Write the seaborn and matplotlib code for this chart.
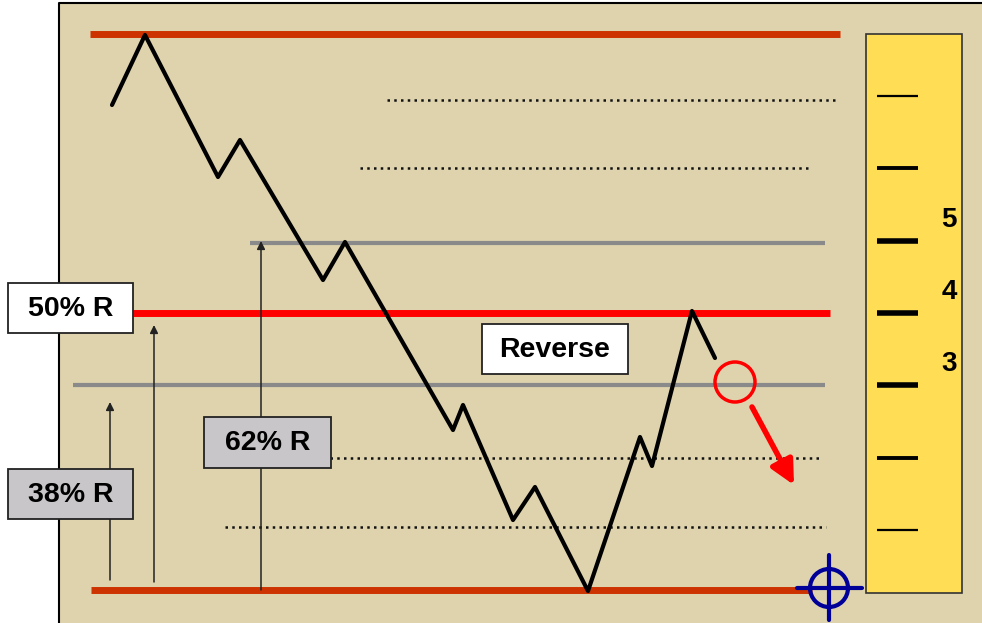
import numpy as np
import pandas as pd
import seaborn as sns
import matplotlib.pyplot as plt
from matplotlib.patches import Rectangle, Circle

sns.set_theme(style="white")
plt.rcParams["font.family"] = ["Liberation Sans", "DejaVu Sans"]
plt.rcParams["text.color"] = "black"

# ---- data (diagram units: x to the right, y downward) ----------------------
zig_x = [112, 145, 218, 240, 323, 345, 453, 463, 513, 535, 588, 640, 652, 692, 715]
zig_y = [105, 35, 177, 140, 280, 242, 430, 405, 520, 487, 591, 437, 466, 311, 358]

# horizontal levels: (y, x_start, x_end)
major_y = [34, 590]
major_x0 = [90, 91]
major_x1 = [840, 812]
half_y, half_x0, half_x1 = 313, 133, 830
fib_y = [243, 385]
fib_x0 = [250, 73]
fib_x1 = [825, 825]
dot_y = [100, 168, 458, 527]
dot_x0 = [387, 360, 330, 225]
dot_x1 = [838, 810, 820, 826]

# retracement arrows: x, bottom, top
arrow_x = [110, 154, 261]
arrow_bottom = [580, 582, 590]
arrow_top = [402, 325, 241]

# ruler ticks and labels
ruler_ticks = [96, 168, 241, 313, 385, 458, 530]
ruler_widths = [1.6, 2.8, 4.0, 4.0, 4.0, 2.8, 1.6]
ruler_labels = ["5", "4", "3"]
ruler_label_y = [220, 292, 364]

BEIGE = "#DED3AD"
fig = plt.figure(figsize=(9.82, 6.23), dpi=100)
ax = fig.add_axes([0, 0, 1, 1])

# panel
ax.add_patch(Rectangle((59, 3), 940, 640, facecolor=BEIGE, edgecolor="none", zorder=0))
ax.plot([59, 59, 982], [623, 3, 3], color="black", lw=1.5, zorder=1)

# ruler
ax.add_patch(Rectangle((866, 34), 96, 559, facecolor="#FFDD55", edgecolor="#333333", lw=1.2, zorder=1))
for y, w in zip(ruler_ticks, ruler_widths):
    ax.plot([877, 918], [y, y], color="black", lw=w, solid_capstyle="butt", zorder=2)
for lab, y in zip(ruler_labels, ruler_label_y):
    ax.text(949, y, lab, fontsize=20, fontweight="bold", color="black",
            ha="center", va="center", zorder=3)

# levels
ax.hlines(major_y, major_x0, major_x1, color="#CC3300", lw=5, zorder=2)
ax.hlines(half_y, half_x0, half_x1, color="#FF0000", lw=5, zorder=2)
ax.hlines(fib_y, fib_x0, fib_x1, color="#8A8A8A", lw=3, zorder=2)
ax.hlines(dot_y, dot_x0, dot_x1, color="#111111", lw=1.8, linestyles=[(0, (1, 1.7))], zorder=2)

# arrows from base
for x, b, t in zip(arrow_x, arrow_bottom, arrow_top):
    ax.annotate("", xy=(x, t), xytext=(x, b),
                arrowprops=dict(arrowstyle="-|>", color="#222222", lw=1.1,
                                mutation_scale=12, shrinkA=0, shrinkB=0), zorder=3)

# price path
path = pd.DataFrame({"x": zig_x, "y": zig_y})
sns.lineplot(data=path, x="x", y="y", sort=False, color="black", lw=3, ax=ax, zorder=4)
ax.set_xlim(0, 982)
ax.set_ylim(623, 0)
ax.axis("off")

# label boxes
boxes = [
    ("50% R", 8, 283, 125, 50, "white"),
    ("38% R", 8, 469, 125, 50, "#C8C6C8"),
    ("62% R", 204, 417, 127, 51, "#C8C6C8"),
    ("Reverse", 482, 324, 146, 50, "white"),
]
for txt, x, y, w, h, fc in boxes:
    ax.add_patch(Rectangle((x, y), w, h, facecolor=fc, edgecolor="#222222", lw=1.3, zorder=5))
    ax.text(x + w / 2, y + h / 2 + 1, txt, fontsize=20.5, fontweight="bold", color="black",
            ha="center", va="center", zorder=6)

# reversal marker
ax.add_patch(Circle((735, 382), 20, facecolor="none", edgecolor="#FF0000", lw=2.5, zorder=6))
ax.annotate("", xy=(794, 485), xytext=(752, 407),
            arrowprops=dict(arrowstyle="-|>", color="#FF0000", lw=4,
                            mutation_scale=36, shrinkA=0, shrinkB=0), zorder=6)

# crosshair
ax.add_patch(Circle((829, 588), 19, facecolor="none", edgecolor="#000099", lw=3, zorder=7))
ax.plot([797, 862], [588, 588], color="#000099", lw=3, zorder=7)
ax.plot([829, 829], [555, 620], color="#000099", lw=3, zorder=7)

fig.savefig("out.png", dpi=100, facecolor="white")
